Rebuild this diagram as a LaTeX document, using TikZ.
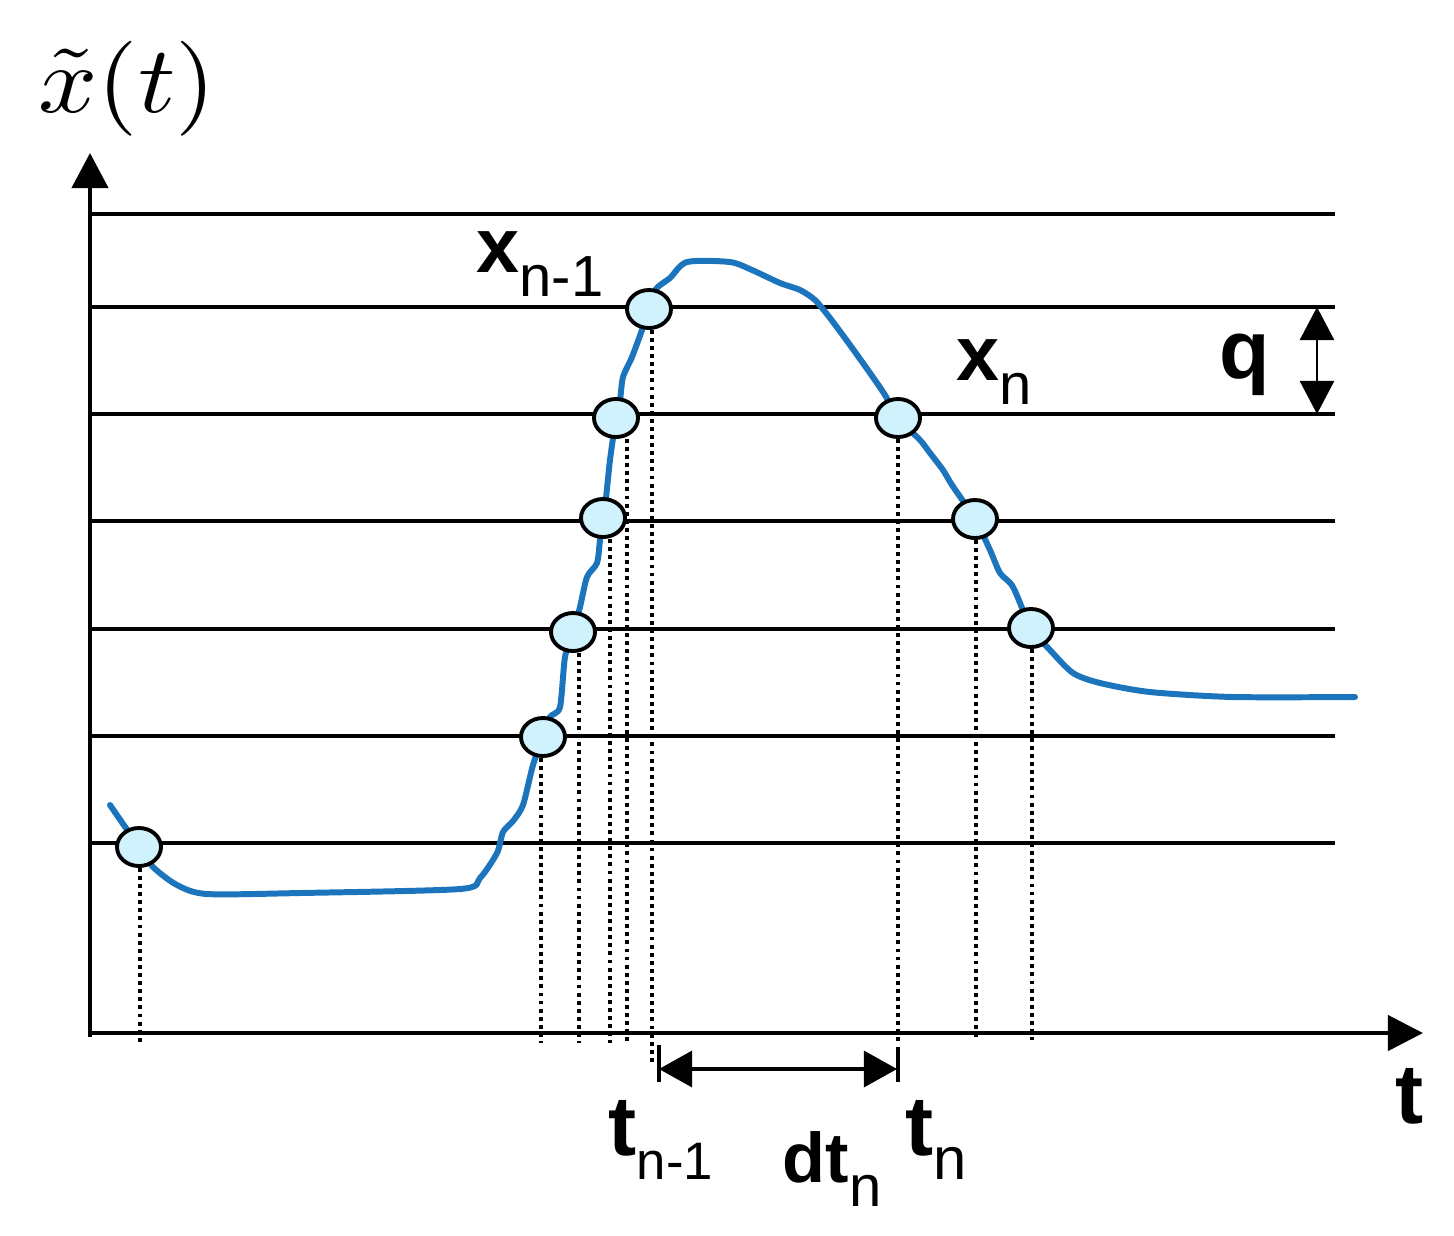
\documentclass[tikz,border=0pt]{standalone}
\usepackage{fontspec}
\newfontfamily\lab{Liberation Sans}
\usetikzlibrary{arrows.meta,shapes.geometric}
\definecolor{curveblue}{RGB}{28,117,188}
\definecolor{dotfill}{RGB}{207,242,252}
\tikzset{
  levelline/.style={line width=1.1pt},
  axisline/.style={line width=1.2pt},
  sig/.style={curveblue, line width=1.7pt, line join=round, line cap=round},
  sample/.style={ellipse, draw=black, line width=1.1pt, fill=dotfill, minimum width=0.44cm, minimum height=0.38cm, inner sep=0pt},
  drop/.style={line width=1.1pt, dash pattern=on 1.1pt off 1.2pt},
  lbl/.style={inner sep=0pt, anchor=base west, font=\lab},
}
\begin{document}
\begin{tikzpicture}[x=0.01cm,y=-0.01cm]
\useasboundingbox (0,0) rectangle (1454,1235);
% level lines
\foreach \i/\yy in {1/214,2/307,3/414,4/521,5/629,6/736,7/843}{
  \coordinate (L\i a) at (90,\yy);
  \coordinate (L\i b) at (1335,\yy);
  \draw[levelline] (L\i a) -- (L\i b);
}
% axes
\coordinate (O) at (90,1037);
\coordinate (ytip) at (90,153);
\coordinate (xO) at (88,1033);
\coordinate (xtip) at (1423,1033);
\draw[axisline, -{Triangle[length=3.5mm,width=3.6mm]}] (O) -- (ytip);
\draw[axisline, -{Triangle[length=3.5mm,width=3.5mm]}] (xO) -- (xtip);
% signal
\draw[sig] plot[smooth, tension=0.45] coordinates {
(110,805) (139,847) (153,867) (177,885) (207,894) (300,893) (460,889) (480,878) (497,853) (503,832) (513,821) (523,805) (533,765) (543,737) (550,717) (560,707) (565,657) (573,632) (580,607) (587,577) (597,563) (600,540) (603,518) (606,498) (610,460) (616,418) (620,400) (623,377) (632,357) (642,330) (649,309) (656,289) (670,278) (687,262) (730,262) (752,270) (780,283) (800,290) (815,300) (830,318) (850,345) (870,373) (885,395) (898,418) (920,440) (930,453) (943,470) (952,485) (975,519) (990,550) (1000,573) (1013,587) (1031,628) (1050,650) (1073,673) (1100,683) (1150,692) (1233,697) (1355,697)};
% samples
\foreach \i/\xx/\yy in {1/139/847,2/543/737,3/573/632,4/603/518,5/616/418,6/649/309,7/898/418,8/975/519,9/1031/628}{
  \node[sample] (c\i) at (\xx,\yy) {};
}
% drop lines
\foreach \i/\xx/\yy in {1/140/1043,2/541/1043,3/579/1043,4/610/1043,5/627/1043,6/652/1063,7/898/1043,8/976/1040,9/1032/1040}{
  \coordinate (b\i) at (\xx,\yy);
  \draw[drop] (c\i.south -| b\i) -- (b\i);
}
% q arrow
\coordinate (qa) at (1317,307);
\coordinate (qb) at (1317,414);
\draw[line width=0.7pt, {Triangle[length=3.3mm,width=3.4mm]}-{Triangle[length=3.3mm,width=3.4mm]}] (qa) -- (qb);
% dt dimension
\coordinate (ta1) at (659,1045);
\coordinate (ta2) at (659,1082);
\coordinate (tb1) at (898,1047);
\coordinate (tb2) at (898,1082);
\coordinate (da) at (659,1069);
\coordinate (db) at (897,1069);
\draw[line width=0.9pt] (ta1) -- (ta2);
\draw[line width=0.9pt] (tb1) -- (tb2);
\draw[line width=0.9pt, {Triangle[length=3.3mm,width=3.6mm]}-{Triangle[length=3.3mm,width=3.6mm]}] (da) -- (db);
% labels
\node[inner sep=0pt, anchor=base west] (ylab) at (38,112) {\scalebox{2.95}[2.7]{$\tilde{x}(t)$}};
\node[lbl] (xnm1) at (476,272) {{\fontsize{22pt}{22pt}\selectfont\bfseries x}\raisebox{-7pt}{\fontsize{16.5pt}{16.5pt}\selectfont n-1}};
\node[lbl] (xn) at (956,380) {{\fontsize{22pt}{22pt}\selectfont\bfseries x}\raisebox{-7pt}{\fontsize{16.5pt}{16.5pt}\selectfont n}};
\node[lbl] (qlab) at (1219,378) {\fontsize{23.5pt}{23.5pt}\selectfont\bfseries q};
\node[lbl] (tnm1) at (608,1155) {{\fontsize{24pt}{24pt}\selectfont\bfseries t}\raisebox{-7pt}{\fontsize{15pt}{15pt}\selectfont n-1}};
\node[lbl] (dtn) at (782,1182) {{\fontsize{20pt}{20pt}\selectfont\bfseries dt}\raisebox{-7pt}{\fontsize{16.5pt}{16.5pt}\selectfont n}};
\node[lbl] (tn) at (905,1155) {{\fontsize{24pt}{24pt}\selectfont\bfseries t}\raisebox{-7pt}{\fontsize{17pt}{17pt}\selectfont n}};
\node[lbl] (tlab) at (1395,1123) {\fontsize{24pt}{24pt}\selectfont\bfseries t};
\end{tikzpicture}
\end{document}
